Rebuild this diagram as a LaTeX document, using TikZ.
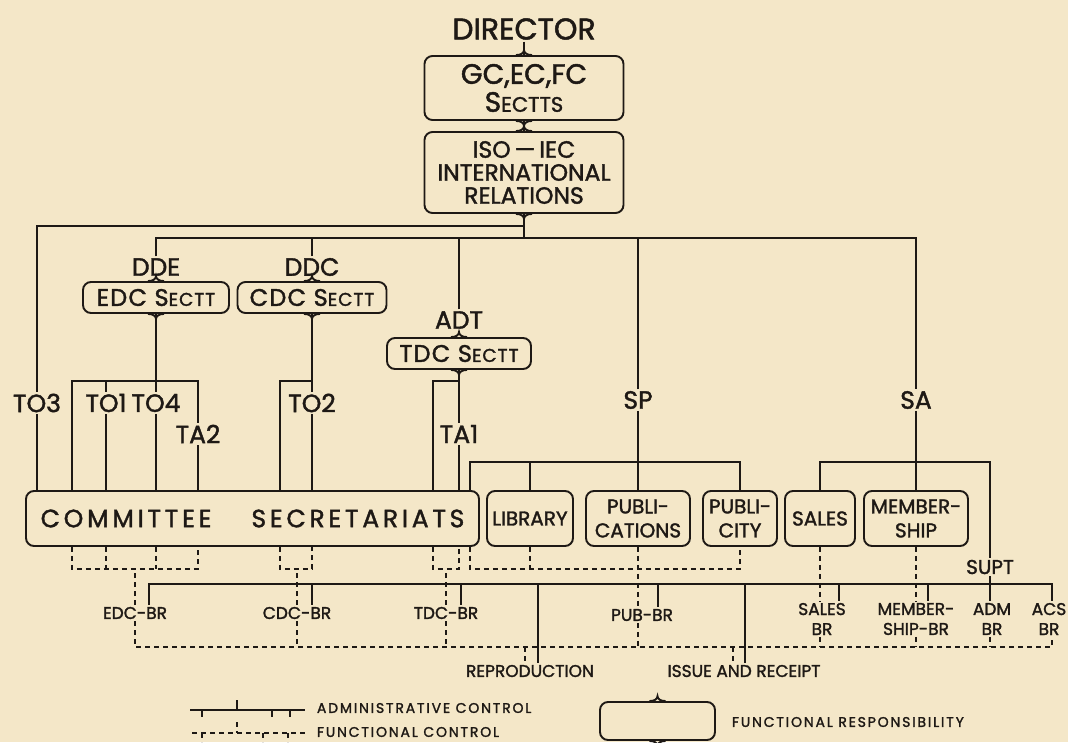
\documentclass[tikz,border=0pt]{standalone}
\usepackage{fontspec}
\setmainfont{Poppins}[FakeBold=1.6]
\usepackage{tikz}
\usetikzlibrary{calc}
\definecolor{paper}{RGB}{244,231,200}
\definecolor{ink}{RGB}{30,25,21}

\newcommand\fsHead{\fontsize{30}{32}\selectfont}
\newcommand\fsLbl{\fontsize{25}{27}\selectfont}
\newcommand\fsTop{\fontsize{28}{28}\selectfont}
\newcommand\fsTopSc{\fontsize{21}{28}\selectfont}
\newcommand\fsIso{\fontsize{23.5}{23}\selectfont}
\newcommand\fsSect{\fontsize{24}{24}\selectfont\addfontfeature{LetterSpace=5}}
\newcommand\fsSectSc{\fontsize{18.5}{24}\selectfont}
\newcommand\fsComm{\fontsize{25}{26}\selectfont\addfontfeature{LetterSpace=15}}
\newcommand\fsUnit{\fontsize{20}{24}\selectfont}
\newcommand\fsBr{\fontsize{17}{20}\selectfont}
\newcommand\fsKey{\fontsize{14}{16}\selectfont\addfontfeature{LetterSpace=13}}

% brace points on top and bottom of a responsibility box
\newcommand\peaks[1]{%
  \draw ($(#1.north)+(-8pt,0)$) .. controls +(5pt,0) and +(0,-3pt) .. ++(8pt,5pt)
        .. controls +(0,-3pt) and +(-5pt,0) .. ++(8pt,-5pt);
  \draw ($(#1.south)+(-8pt,0)$) .. controls +(5pt,0) and +(0,3pt) .. ++(8pt,-5pt)
        .. controls +(0,3pt) and +(-5pt,0) .. ++(8pt,5pt);}

\begin{document}
\begin{tikzpicture}[x=1pt,y=-1pt,color=ink,line width=1.9pt,
    unit/.style={draw,rounded corners=8pt,inner sep=0pt,align=center},
    lbl/.style={inner sep=1pt,font=\fsLbl},
    brlbl/.style={inner sep=1pt,font=\fsBr,align=center},
    fn/.style={dash pattern=on 5pt off 4pt}]
  \path[use as bounding box] (0,0) rectangle (1068,742);
  \fill[paper] (0,0) rectangle (1068,742);

  % top of the chart
  \node[font=\fsHead,inner sep=1pt] (director) at (524,29) {DIRECTOR};
  \node[unit,minimum width=199pt,minimum height=64pt,font=\fsTop] (gcec) at (524,88) {GC,EC,FC\\S{\fsTopSc ECTTS}};
  \node[unit,minimum width=199pt,minimum height=81pt,font=\fsIso] (iso) at (524,172.5) {ISO\,---\,IEC\\INTERNATIONAL\\RELATIONS};
  \peaks{gcec}
  \peaks{iso}

  % sectts and officers
  \node[lbl] (lblDDE) at (156,267) {DDE};
  \node[lbl] (lblDDC) at (312,267) {DDC};
  \node[lbl] (lblADT) at (459,320) {ADT};
  \node[unit,minimum width=146pt,minimum height=31pt,font=\fsSect] (edc) at (156,297.5) {EDC S{\fsSectSc ECTT}};
  \node[unit,minimum width=149pt,minimum height=31pt,font=\fsSect] (cdc) at (312,297.5) {CDC S{\fsSectSc ECTT}};
  \node[unit,minimum width=144pt,minimum height=31pt,font=\fsSect] (tdc) at (459,353.5) {TDC S{\fsSectSc ECTT}};
  \peaks{edc}
  \peaks{cdc}
  \peaks{tdc}

  \node[lbl] (lblTO3) at (37,403) {TO3};
  \node[lbl] (lblTO1) at (106,403) {TO1};
  \node[lbl] (lblTO4) at (156,403) {TO4};
  \node[lbl] (lblTA2) at (198,434) {TA2};
  \node[lbl] (lblTO2) at (312,403) {TO2};
  \node[lbl] (lblTA1) at (459,434) {TA1};
  \node[lbl] (lblSP) at (638,400) {SP};
  \node[lbl] (lblSA) at (916,400) {SA};

  % units
  \node[unit,minimum width=453pt,minimum height=55pt,font=\fsComm] (comm) at (252.5,518.5) {COMMITTEE\hspace{40pt}SECRETARIATS};
  \node[unit,minimum width=86pt,minimum height=55pt,font=\fsUnit] (lib) at (530,518.5) {LIBRARY};
  \node[unit,minimum width=104pt,minimum height=55pt,font=\fsUnit] (pub) at (638,518.5) {PUBLI-\\CATIONS};
  \node[unit,minimum width=74pt,minimum height=55pt,font=\fsUnit] (pcity) at (740,518.5) {PUBLI-\\CITY};
  \node[unit,minimum width=70pt,minimum height=55pt,font=\fsUnit] (sales) at (820,518.5) {SALES};
  \node[unit,minimum width=104pt,minimum height=55pt,font=\fsUnit] (memb) at (916,518.5) {MEMBER-\\SHIP};
  \node[lbl,font=\fsUnit] (supt) at (990,567) {SUPT};

  % branches
  \node[brlbl] (edcBR) at (135,613) {EDC-BR};
  \node[brlbl] (cdcBR) at (297,613) {CDC-BR};
  \node[brlbl] (tdcBR) at (446,613) {TDC-BR};
  \node[brlbl] (pubBR) at (642,615) {PUB-BR};
  \node[brlbl] (salesBR) at (822,619) {SALES\\BR};
  \node[brlbl] (membBR) at (916,619) {MEMBER-\\SHIP-BR};
  \node[brlbl] (admBR) at (992,619) {ADM\\BR};
  \node[brlbl] (acsBR) at (1049,619) {ACS\\BR};
  \node[brlbl] (repro) at (530,671) {REPRODUCTION};
  \node[brlbl] (issue) at (744,671) {ISSUE AND RECEIPT};

  \coordinate (jA) at (iso.south |- 0,226);
  \coordinate (jB) at (iso.south |- 0,238);
  \coordinate (bR) at (916,238);
  \coordinate (e1) at (72,381);
  \coordinate (e4) at (198,381);
  \coordinate (c1) at (280,381);
  \coordinate (t1) at (433,381);
  \coordinate (lg) at (470,462);
  \coordinate (sg) at (990,462);
  \coordinate (dbar) at (0,569);
  \coordinate (bus0) at (149,584);
  \coordinate (bus1) at (1052,584);
  \coordinate (fb0) at (135,647);
  \coordinate (fb1) at (1052,647);

  % administrative control
  \draw (director) -- (gcec);
  \draw (gcec) -- (iso);
  \draw (iso.south) -- (jB);
  \draw (jA) -| (lblTO3.north);
  \draw (lblTO3.south) -- (lblTO3.south |- comm.north);
  \draw (lblDDE.north) |- (bR) -- (lblSA.north);
  \foreach \n in {lblDDC,lblADT,lblSP}
    \draw (\n.north) -- (\n.north |- bR);

  \draw (e1 |- comm.north) -- (e1) -- (e4) -- (lblTA2.north);
  \draw (edc.south) -- (lblTO4.north);
  \draw (lblTO1.north) -- (lblTO1.north |- e1);
  \draw (c1 |- comm.north) -- (c1) -| (cdc.south);
  \draw (cdc.south) -- (lblTO2.north);
  \draw (t1 |- comm.north) -- (t1) -| (tdc.south);
  \draw (tdc.south) -- (lblTA1.north);
  \foreach \n in {lblTO1,lblTO4,lblTA2,lblTO2,lblTA1}
    \draw (\n.south) -- (\n.south |- comm.north);

  \draw (lg |- comm.north) -- (lg) -| (pcity.north);
  \draw (lib.north) -- (lib.north |- lg);
  \draw (lblSP.south) -- (pub.north);
  \draw (sales.north) |- (sg) -- (supt.north);
  \draw (lblSA.south) -- (memb.north);

  \draw (bus0 |- edcBR.north) -- (bus0) -- (bus1) -- (bus1 |- acsBR.north);
  \foreach \n/\dx in {cdcBR/15,tdcBR/15,pubBR/16,salesBR/17,membBR/12}
    \draw ([xshift=\dx pt]\n.north |- bus0) -- ([xshift=\dx pt]\n.north);
  \draw (supt.south) -- (supt.south |- admBR.north);
  \draw ([xshift=8pt]repro.north |- bus0) -- ([xshift=8pt]repro.north);
  \draw ([xshift=1pt]issue.north |- bus0) -- ([xshift=1pt]issue.north);

  % functional control
  \draw[fn] (e1 |- comm.south) -- (e1 |- dbar) -- (e4 |- dbar) -- (e4 |- comm.south);
  \foreach \n in {lblTO1,lblTO4}
    \draw[fn] (\n |- comm.south) -- (\n |- dbar);
  \draw[fn] (edcBR.north) -- (edcBR.north |- dbar);
  \draw[fn] (edcBR.south) -- (fb0) -- (fb1) -- (acsBR.south -| fb1);
  \draw[fn] (c1 |- comm.south) -- (c1 |- dbar) -- (cdc.south |- dbar) -- (cdc.south |- comm.south);
  \draw[fn] (t1 |- comm.south) -- (t1 |- dbar) -- (tdc.south |- dbar) -- (tdc.south |- comm.south);
  \draw[fn] (lg |- comm.south) -- (lg |- dbar) -- (pcity.south |- dbar) -- (pcity.south);
  \draw[fn] (lib.south) -- (lib.south |- dbar);
  \foreach \n in {cdcBR,tdcBR}
    \draw[fn] (\n.north) -- (\n.north |- dbar) (\n.south) -- (\n.south |- fb0);
  \foreach \u/\n in {pub/pubBR,sales/salesBR,memb/membBR}
    \draw[fn] (\u.south) -- (\u.south |- \n.north) (\u.south |- \n.south) -- (\u.south |- fb0);
  \draw[fn] (supt.south |- admBR.south) -- (supt.south |- fb0);
  \draw[fn] ([xshift=-5pt]repro.north |- fb0) -- ([xshift=-5pt]repro.north);
  \draw[fn] ([xshift=-11pt]issue.north |- fb0) -- ([xshift=-11pt]issue.north);

  % key
  \draw (190,710) -- (305,710) (237,700) -- (237,710)
        (202,710) -- (202,717) (272,710) -- (272,717) (290,710) -- (290,717);
  \draw[fn] (192,733) -- (305,733) (237,722) -- (237,733)
        (202,733) -- (202,742) (263,733) -- (263,742) (288,733) -- (288,742);
  \node[anchor=west,font=\fsKey,inner sep=1pt] (keyAdm) at (315,708) {ADMINISTRATIVE CONTROL};
  \node[anchor=west,font=\fsKey,inner sep=1pt] (keyFn) at (315,732) {FUNCTIONAL CONTROL};
  \node[unit,minimum width=115pt,minimum height=38pt] (keyBox) at (657.5,721) {};
  \peaks{keyBox}
  \node[anchor=west,font=\fsKey,inner sep=1pt] (keyResp) at (730,722) {FUNCTIONAL RESPONSIBILITY};
\end{tikzpicture}
\end{document}
